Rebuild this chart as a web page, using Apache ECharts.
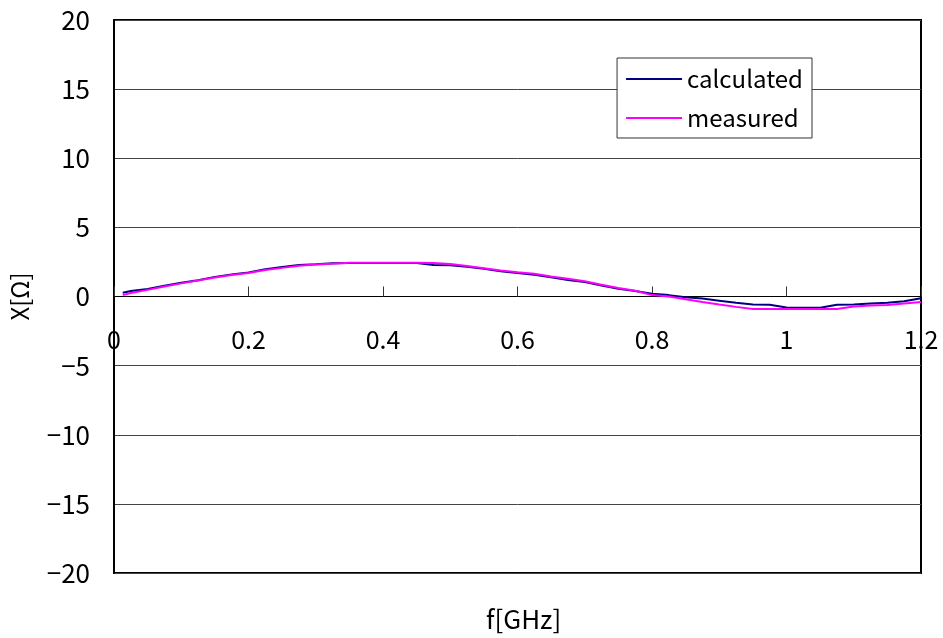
<!DOCTYPE html>
<html>
<head>
<meta charset="utf-8">
<script src="https://cdn.jsdelivr.net/npm/echarts@6/dist/echarts.min.js"></script>
<style>
html,body{margin:0;padding:0;background:#fff;}
#c{width:943px;height:638px;}
</style>
</head>
<body>
<div id="c"></div>
<script>
var freq = [0.013,0.025,0.05,0.075,0.1,0.125,0.15,0.175,0.2,0.225,0.25,0.275,0.3,0.325,0.35,0.375,0.4,0.425,0.45,0.475,0.5,0.525,0.55,0.575,0.6,0.625,0.65,0.675,0.7,0.725,0.75,0.775,0.8,0.825,0.85,0.875,0.9,0.925,0.95,0.975,1.0,1.025,1.05,1.075,1.1,1.125,1.15,1.175,1.2];
var calculated = [0.27,0.4,0.55,0.77,0.99,1.18,1.42,1.6,1.74,1.98,2.13,2.27,2.33,2.4,2.42,2.42,2.42,2.42,2.42,2.28,2.26,2.15,2.0,1.83,1.7,1.58,1.4,1.2,1.05,0.8,0.56,0.4,0.2,0.1,-0.05,-0.15,-0.3,-0.45,-0.58,-0.6,-0.8,-0.82,-0.82,-0.6,-0.58,-0.5,-0.45,-0.35,-0.12];
var measured = [0.1,0.25,0.48,0.72,0.95,1.15,1.38,1.55,1.7,1.92,2.07,2.22,2.32,2.37,2.44,2.44,2.44,2.44,2.44,2.42,2.35,2.2,2.05,1.88,1.75,1.65,1.45,1.28,1.1,0.85,0.62,0.42,0.1,0.0,-0.2,-0.4,-0.58,-0.75,-0.9,-0.9,-0.9,-0.9,-0.9,-0.9,-0.72,-0.65,-0.62,-0.5,-0.4];
var seriesNames = ['calculated','measured'];
var xTitle = 'f[GHz]';
var yTitle = 'X[Ω]';

function pairs(xs, ys){ return xs.map(function(x,i){ return [x, ys[i]]; }); }
var FONT = '"Noto Sans CJK JP", "Liberation Sans", sans-serif';

var chart = echarts.init(document.getElementById('c'), null, {renderer:'canvas'});
chart.setOption({
  animation:false,
  backgroundColor:'#fff',
  textStyle:{fontFamily:FONT},
  grid:{left:113,right:22,top:20,bottom:65,show:true,borderColor:'#000',borderWidth:2,backgroundColor:'transparent'},
  legend:{
    right:943-812, top:58, orient:'vertical', itemWidth:56, itemHeight:2, itemGap:15,
    backgroundColor:'#fff', borderColor:'#333', borderWidth:1, padding:[9,9,8,9],
    textStyle:{fontSize:24,color:'#000',fontFamily:FONT},
    icon:'rect',
    data:seriesNames
  },
  xAxis:{
    type:'value', min:0, max:1.2, interval:0.2,
    offset:-276.5,
    axisLine:{show:true,onZero:false,lineStyle:{color:'#000',width:1}},
    axisTick:{show:true,inside:true,length:10,lineStyle:{color:'#333'}},
    axisLabel:{fontSize:25,color:'#000',margin:30,showMinLabel:true,showMaxLabel:true,fontFamily:FONT},
    splitLine:{show:false}
  },
  yAxis:{
    type:'value', min:-20, max:20, interval:5,
    axisLine:{show:true,lineStyle:{color:'#000',width:2}},
    axisTick:{show:false},
    axisLabel:{fontSize:26,color:'#000',margin:24,fontFamily:FONT,
      formatter:function(v){ return v<0 ? '\u2212'+(-v) : String(v); }},
    splitLine:{show:true,lineStyle:{color:'#444',width:1}},
    name:yTitle, nameLocation:'middle', nameGap:82, nameRotate:90,
    nameTextStyle:{fontSize:24,color:'#000',fontFamily:FONT}
  },
  graphic:[{type:'text',left:486,top:606,style:{text:xTitle,font:'26px '+FONT,fill:'#000'}}],
  series:[
    {name:seriesNames[0],type:'line',data:pairs(freq,calculated),showSymbol:false,
     lineStyle:{color:'#000080',width:2},itemStyle:{color:'#000080'}},
    {name:seriesNames[1],type:'line',data:pairs(freq,measured),showSymbol:false,
     lineStyle:{color:'#ff00ff',width:2},itemStyle:{color:'#ff00ff'}}
  ]
});
</script>
</body>
</html>
